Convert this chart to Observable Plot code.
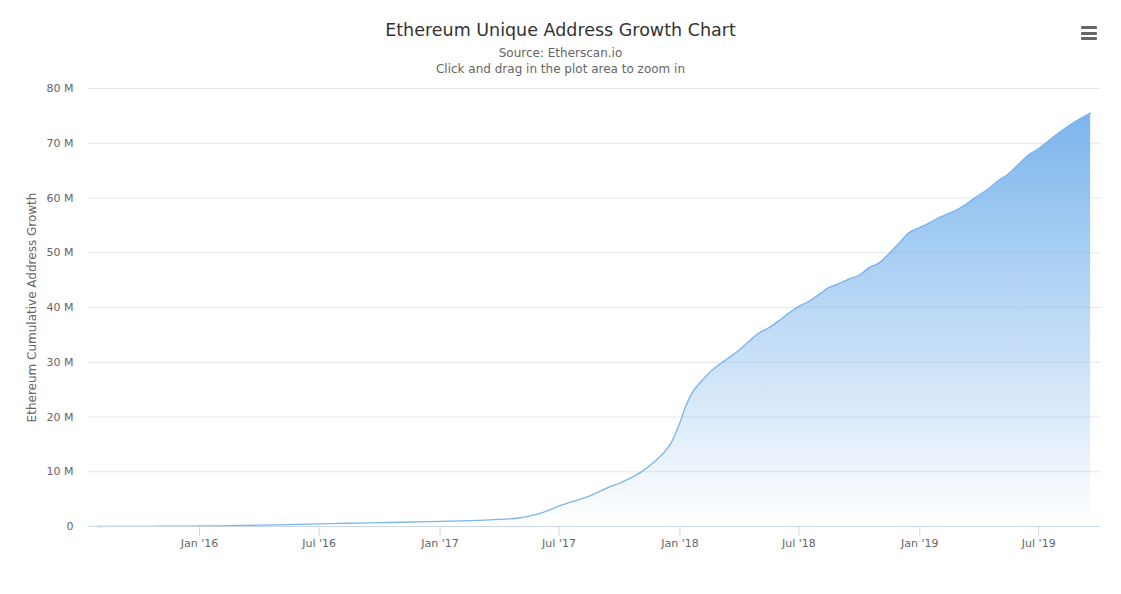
<!DOCTYPE html>
<html>
<head>
<meta charset="utf-8">
<script src="https://cdn.jsdelivr.net/npm/d3@7"></script>
<script src="https://cdn.jsdelivr.net/npm/@observablehq/plot@0.6"></script>
<style>
  html, body { margin: 0; padding: 0; background: #fff; }
  body { width: 1121px; height: 594px; overflow: hidden; font-family: "DejaVu Sans", sans-serif; }
  #wrap { position: relative; width: 1121px; height: 594px; }
  #header { position: relative; width: 1121px; height: 78px; }
  #title { position: absolute; left: 0; width: 1121px; top: 19px; text-align: center; font-size: 17.5px; color: #333; line-height: 22px; }
  #sub1, #sub2 { position: absolute; left: 0; width: 1121px; text-align: center; font-size: 12px; color: #666; line-height: 14px; }
  #sub1 { top: 46px; }
  #sub2 { top: 62px; }
  #menu { position: absolute; left: 1081px; top: 26px; width: 16px; }
  #menu div { height: 3px; background: #666; margin-bottom: 2.5px; border-radius: 1px; }
  #chart svg { display: block; }
</style>
</head>
<body>
<div id="wrap">
  <div id="header">
    <div id="title">Ethereum Unique Address Growth Chart</div>
    <div id="sub1">Source: Etherscan.io</div>
    <div id="sub2">Click and drag in the plot area to zoom in</div>
    <div id="menu"><div></div><div></div><div></div></div>
  </div>
  <div id="chart"></div>
</div>
<script>
// ---- data ----
const dates = [
  "2015-07-30","2015-09-01","2015-10-01","2015-11-01","2015-12-01",
  "2016-01-01","2016-02-01","2016-03-01","2016-04-01","2016-05-01","2016-06-01",
  "2016-07-01","2016-08-01","2016-09-01","2016-10-01","2016-11-01","2016-12-01",
  "2017-01-01","2017-02-01","2017-03-01","2017-04-01","2017-05-01","2017-05-15","2017-06-01","2017-06-15",
  "2017-07-01","2017-07-15","2017-08-01","2017-08-15","2017-09-01","2017-09-15",
  "2017-10-01","2017-10-15","2017-11-01","2017-11-15","2017-12-01","2017-12-10","2017-12-20",
  "2018-01-01","2018-01-10","2018-01-20","2018-02-01","2018-02-15","2018-03-01","2018-03-15",
  "2018-04-01","2018-04-15","2018-05-01","2018-05-15","2018-06-01","2018-06-15",
  "2018-07-01","2018-07-15","2018-08-01","2018-08-15","2018-09-01","2018-09-15",
  "2018-10-01","2018-10-15","2018-11-01","2018-11-15","2018-12-01","2018-12-15",
  "2019-01-01","2019-01-15","2019-02-01","2019-02-15","2019-03-01","2019-03-15",
  "2019-04-01","2019-04-15","2019-05-01","2019-05-15","2019-06-01","2019-06-15",
  "2019-07-01","2019-07-15","2019-08-01","2019-08-15","2019-09-01","2019-09-18"
];
// cumulative unique addresses, millions
const addressesM = [
  0.00, 0.02, 0.03, 0.05, 0.07,
  0.10, 0.13, 0.18, 0.24, 0.31, 0.39,
  0.48, 0.56, 0.63, 0.70, 0.78, 0.86,
  0.95, 1.03, 1.13, 1.30, 1.55, 1.85, 2.35, 2.95,
  3.75, 4.30, 4.90, 5.50, 6.40, 7.20,
  7.90, 8.70, 9.80, 11.0, 12.7, 13.8, 15.6,
  19.0, 22.0, 24.5, 26.3, 28.1, 29.5, 30.7,
  32.2, 33.7, 35.3, 36.2, 37.6, 38.9,
  40.2, 41.0, 42.4, 43.6, 44.4, 45.2,
  45.9, 47.2, 48.2, 49.8, 51.8, 53.6,
  54.6, 55.4, 56.5, 57.2, 58.0, 59.1,
  60.5, 61.6, 63.2, 64.3, 66.2, 67.8,
  69.0, 70.3, 71.9, 73.1, 74.4, 75.5
];
const yTicks = [0, 10e6, 20e6, 30e6, 40e6, 50e6, 60e6, 70e6, 80e6];
const xTickDates = ["2016-01-01","2016-07-01","2017-01-01","2017-07-01","2018-01-01","2018-07-01","2019-01-01","2019-07-01"];
const xDomain = ["2015-07-16", "2019-10-03"];
const yTitle = "Ethereum Cumulative Address Growth";

const data = dates.map((d, i) => ({date: new Date(d + "T00:00:00Z"), value: addressesM[i] * 1e6}));
const fmtX = d3.utcFormat("%b '%y");

const gradientDefs = () => {
  const ns = "http://www.w3.org/2000/svg";
  const defs = document.createElementNS(ns, "defs");
  const lg = document.createElementNS(ns, "linearGradient");
  lg.setAttribute("id", "areaGrad");
  lg.setAttribute("x1", "0"); lg.setAttribute("y1", "0");
  lg.setAttribute("x2", "0"); lg.setAttribute("y2", "1");
  const s1 = document.createElementNS(ns, "stop");
  s1.setAttribute("offset", "0"); s1.setAttribute("stop-color", "#7cb5ec"); s1.setAttribute("stop-opacity", "1");
  const s2 = document.createElementNS(ns, "stop");
  s2.setAttribute("offset", "1"); s2.setAttribute("stop-color", "#7cb5ec"); s2.setAttribute("stop-opacity", "0");
  lg.appendChild(s1); lg.appendChild(s2); defs.appendChild(lg);
  return defs;
};

const chart = Plot.plot({
  width: 1121,
  height: 516,
  marginTop: 10,
  marginBottom: 68,
  marginLeft: 88,
  marginRight: 21,
  style: {fontFamily: "DejaVu Sans, sans-serif", fontSize: "11px", color: "#666", background: "#fff"},
  x: {type: "utc", domain: xDomain.map(d => new Date(d + "T00:00:00Z"))},
  y: {domain: [0, 80e6]},
  marks: [
    gradientDefs,
    Plot.gridY(yTicks, {stroke: "#e6e6e6", strokeOpacity: 1}),
    Plot.areaY(data, {x: "date", y: "value", fill: "url(#areaGrad)", curve: "monotone-x"}),
    Plot.lineY(data, {x: "date", y: "value", stroke: "#7cb5ec", strokeWidth: 1.3, curve: "monotone-x"}),
    Plot.ruleY([0], {stroke: "#ccd6eb", strokeWidth: 1}),
    Plot.axisY({ticks: yTicks, tickFormat: d => d === 0 ? "0" : (d / 1e6) + " M", tickSize: 0, tickPadding: 15, fill: "#666", fontSize: 11, label: null}),
    Plot.axisX({ticks: xTickDates.map(d => new Date(d + "T00:00:00Z")), tickFormat: fmtX, tickSize: 10, tickPadding: 3, stroke: "#ccd6eb", fill: "#666", fontSize: 11, label: null}),
    Plot.text([yTitle], {frameAnchor: "left", textAnchor: "middle", text: d => d, rotate: -90, dx: -56, fill: "#666", fontSize: 12})
  ]
});
document.getElementById("chart").appendChild(chart);
</script>
</body>
</html>
